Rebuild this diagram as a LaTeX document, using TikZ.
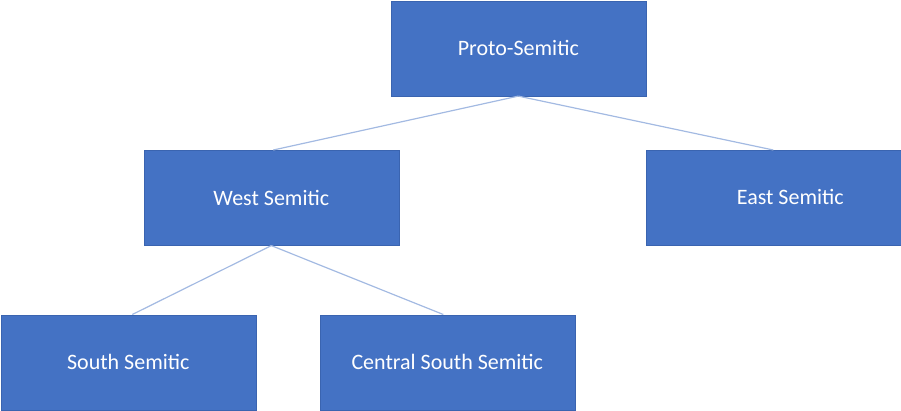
\documentclass[tikz,border=0pt]{standalone}
\usepackage{fontspec}
\setmainfont{Carlito}
\definecolor{boxblue}{HTML}{4472C4}
\definecolor{boxedge}{HTML}{3A64B0}
\definecolor{linkblue}{HTML}{A3BAE2}
\begin{document}
\begin{tikzpicture}[x=1pt,y=-1pt,
  box/.style={draw=boxedge,line width=0.6pt,fill=boxblue,minimum width=255pt,minimum height=95pt,inner sep=0pt,anchor=north west},
  lbl/.style={text=white,font=\fontsize{22}{24}\selectfont},
  link/.style={draw=linkblue,line width=1.2pt}]
\useasboundingbox (0,0) rectangle (901,410);
\node[box] (proto) at (390.5,0.5) {};
\node[box] (west) at (143.5,150) {};
\node[box] (east) at (645.5,150) {};
\node[box] (south) at (0.5,314.5) {};
\node[box] (central) at (319.5,314.5) {};
\node[lbl] (tproto) at (proto.center) {Proto-Semitic};
\node[lbl] (twest) at (west.center) {West Semitic};
\node[lbl] (teast) at ([xshift=17pt,yshift=1pt]east.center) {East Semitic};
\node[lbl] (tsouth) at (south.center) {South Semitic};
\node[lbl] (tcentral) at (central.center) {Central South Semitic};
\draw[link] (proto.south) -- ([xshift=2pt]west.north);
\draw[link] (proto.south) -- (east.north);
\draw[link] (west.south) -- ([xshift=4pt]south.north);
\draw[link] (west.south) -- ([xshift=-4pt]central.north);
\end{tikzpicture}
\end{document}
